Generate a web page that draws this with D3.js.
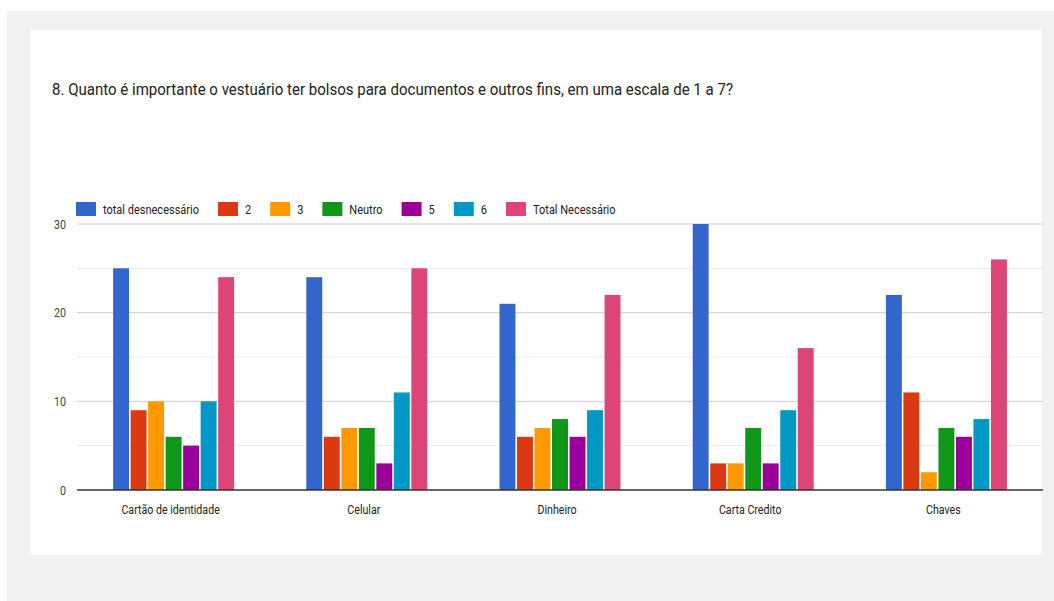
<!DOCTYPE html>
<html>
<head>
<meta charset="utf-8">
<script src="https://cdn.jsdelivr.net/npm/d3@7"></script>
<style>
  html, body { margin: 0; padding: 0; background: #ffffff; }
  svg { display: block; font-family: Roboto, "Liberation Sans", Arial, sans-serif; }
</style>
</head>
<body>
<svg id="chart" width="1054" height="601"></svg>
<script>
// Respostas por item e por nível da escala (1 a 7)
const categories = ["Cartão de identidade", "Celular", "Dinheiro", "Carta Credito", "Chaves"];
const seriesNames = ["total desnecessário", "2", "3", "Neutro", "5", "6", "Total Necessário"];
const seriesColors = ["#3366cc", "#dc3912", "#ff9900", "#109618", "#990099", "#0099c6", "#dd4477"];
const totalDesnecessario = [25, 24, 21, 30, 22];
const nivel2 = [9, 6, 6, 3, 11];
const nivel3 = [10, 7, 7, 3, 2];
const neutro = [6, 7, 8, 7, 7];
const nivel5 = [5, 3, 6, 3, 6];
const nivel6 = [10, 11, 9, 9, 8];
const totalNecessario = [24, 25, 22, 16, 26];
const yTicks = [0, 10, 20, 30];
const yMinorTicks = [5, 15, 25];
const titleText = "8. Quanto é importante o vestuário ter bolsos para documentos e outros fins, em uma escala de 1 a 7?";

const seriesValues = [totalDesnecessario, nivel2, nivel3, neutro, nivel5, nivel6, totalNecessario];

const svg = d3.select("#chart");

// page background and card
svg.append("rect").attr("x", 7).attr("y", 11).attr("width", 1047).attr("height", 590).attr("fill", "#f1f1f1");
svg.append("rect").attr("x", 30).attr("y", 30).attr("width", 1012).attr("height", 525).attr("fill", "#ffffff");

// narrow the glyphs of a text selection by factor k; returns the new widths
function condense(sel, k) {
  const widths = [];
  sel.each(function () {
    const w = this.getComputedTextLength() * k;
    widths.push(w);
    d3.select(this).attr("textLength", w).attr("lengthAdjust", "spacingAndGlyphs");
  });
  return widths;
}

// title
svg.append("text")
  .attr("x", 52).attr("y", 95)
  .attr("font-size", 16.5).attr("fill", "#222")
  .text(titleText)
  .attr("textLength", 681).attr("lengthAdjust", "spacingAndGlyphs");

const plot = { left: 77, right: 1043, top: 224, bottom: 490 };

const x0 = d3.scaleBand().domain(categories).range([plot.left, plot.right]).paddingInner(0).paddingOuter(0);
const groupWidth = 121;
const x1 = d3.scaleBand().domain(seriesNames).range([0, groupWidth]).paddingInner(0.09);
const y = d3.scaleLinear().domain([0, 30]).range([plot.bottom, plot.top]);

// gridlines
svg.append("g").selectAll("line").data(yMinorTicks).join("line")
  .attr("x1", plot.left).attr("x2", plot.right)
  .attr("y1", d => y(d)).attr("y2", d => y(d))
  .attr("stroke", "#ebebeb").attr("stroke-width", 1);
svg.append("g").selectAll("line").data(yTicks.filter(d => d !== 0)).join("line")
  .attr("x1", plot.left).attr("x2", plot.right)
  .attr("y1", d => y(d)).attr("y2", d => y(d))
  .attr("stroke", "#cccccc").attr("stroke-width", 1);

// y axis labels
const yAxis = d3.axisLeft(y).tickValues(yTicks).tickSize(0).tickPadding(0).tickFormat(d3.format("d"));
const yg = svg.append("g").attr("transform", `translate(${plot.left - 11},0)`).call(yAxis);
yg.select(".domain").remove();
condense(yg.selectAll("text").attr("font-size", 12.5).attr("fill", "#444").attr("font-family", "Roboto, sans-serif"), 0.85);

// bars
const groups = svg.append("g").selectAll("g").data(categories).join("g")
  .attr("transform", d => `translate(${x0(d) + (x0.bandwidth() - groupWidth) / 2},0)`);
groups.selectAll("rect")
  .data((c, i) => seriesNames.map((s, j) => ({ s, v: seriesValues[j][i], color: seriesColors[j] })))
  .join("rect")
  .attr("x", d => x1(d.s))
  .attr("width", x1.bandwidth())
  .attr("y", d => y(d.v))
  .attr("height", d => y(0) - y(d.v))
  .attr("fill", d => d.color);

// baseline
svg.append("line")
  .attr("x1", plot.left).attr("x2", plot.right)
  .attr("y1", y(0)).attr("y2", y(0))
  .attr("stroke", "#333").attr("stroke-width", 1.5);

// x axis labels
const xAxis = d3.axisBottom(x0).tickSize(0).tickPadding(0);
const xg = svg.append("g").attr("transform", `translate(-3,${plot.bottom + 15})`).call(xAxis);
xg.select(".domain").remove();
condense(xg.selectAll("text").attr("font-size", 12.5).attr("fill", "#222").attr("font-family", "Roboto, sans-serif"), 0.85);

// legend
const legend = svg.append("g").attr("transform", "translate(76,202)");
let lx = 0;
seriesNames.forEach((name, i) => {
  const item = legend.append("g").attr("transform", `translate(${lx},0)`);
  item.append("rect").attr("width", 20).attr("height", 14).attr("fill", seriesColors[i]);
  const t = item.append("text").attr("x", 27).attr("y", 11.5)
    .attr("font-size", 12.5).attr("fill", "#222").text(name);
  const [w] = condense(t, 0.88);
  lx += 27 + w + 19;
});
</script>
</body>
</html>
